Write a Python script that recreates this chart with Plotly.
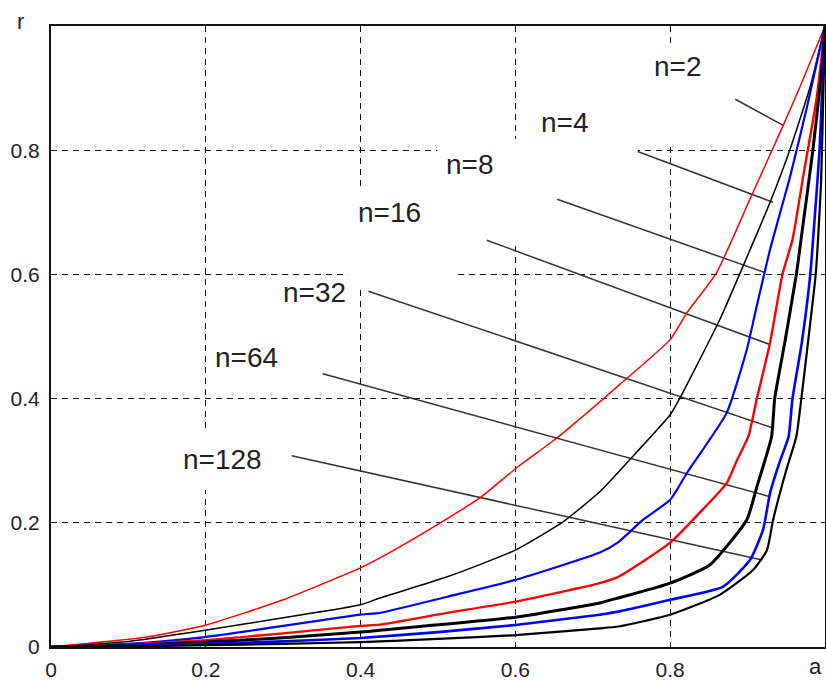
import plotly.graph_objects as go

# ---- data ----
labels = ["n=2", "n=4", "n=8", "n=16", "n=32", "n=64", "n=128"]

x_n2 = [0, 0.124, 0.199, 0.3, 0.399, 0.425, 0.503, 0.554, 0.602, 0.654, 0.712, 0.735, 0.800, 0.822, 0.860, 0.903, 0.946, 0.968, 1.0]
y_n2 = [0, 0.016, 0.035, 0.076, 0.127, 0.1435, 0.200, 0.240, 0.289, 0.337, 0.398, 0.423, 0.495, 0.539, 0.603, 0.721, 0.840, 0.903, 1.0]

x_n4 = [0, 0.1, 0.199, 0.3, 0.4, 0.425, 0.512, 0.600, 0.662, 0.709, 0.748, 0.800, 0.813, 0.864, 0.894, 0.929, 0.955, 0.981, 1.0]
y_n4 = [0, 0.009, 0.027, 0.047, 0.068, 0.079, 0.113, 0.156, 0.202, 0.250, 0.302, 0.374, 0.402, 0.527, 0.613, 0.716, 0.802, 0.903, 1.0]

x_n8 = [0, 0.1, 0.199, 0.3, 0.399, 0.425, 0.512, 0.600, 0.709, 0.733, 0.765, 0.800, 0.822, 0.873, 0.899, 0.910, 0.929, 0.955, 0.977, 1.0]
y_n8 = [0, 0.005, 0.016, 0.034, 0.052, 0.055, 0.081, 0.108, 0.152, 0.169, 0.205, 0.237, 0.281, 0.377, 0.479, 0.539, 0.640, 0.758, 0.871, 1.0]

x_n16 = [0, 0.1, 0.2, 0.3, 0.4, 0.425, 0.512, 0.600, 0.709, 0.733, 0.800, 0.838, 0.873, 0.886, 0.901, 0.912, 0.929, 0.945, 0.958, 0.972, 0.989, 1.0]
y_n16 = [0, 0.004, 0.011, 0.022, 0.034, 0.036, 0.055, 0.073, 0.103, 0.113, 0.168, 0.216, 0.264, 0.300, 0.339, 0.400, 0.490, 0.600, 0.656, 0.759, 0.882, 1.0]

x_n32 = [0, 0.1, 0.2, 0.3, 0.4, 0.425, 0.6, 0.709, 0.733, 0.8, 0.851, 0.899, 0.912, 0.931, 0.935, 0.948, 0.963, 0.969, 0.984, 0.996, 1.0]
y_n32 = [0, 0.003, 0.008, 0.015, 0.024, 0.027, 0.048, 0.071, 0.079, 0.103, 0.132, 0.205, 0.258, 0.339, 0.400, 0.490, 0.600, 0.656, 0.797, 0.931, 1.0]

x_n64 = [0, 0.1, 0.2, 0.3, 0.4, 0.5, 0.6, 0.709, 0.733, 0.8, 0.868, 0.903, 0.920, 0.929, 0.942, 0.953, 0.958, 0.970, 0.981, 0.986, 0.993, 1.0]
y_n64 = [0, 0.002, 0.005, 0.009, 0.0145, 0.024, 0.0355, 0.052, 0.057, 0.076, 0.097, 0.140, 0.189, 0.248, 0.300, 0.339, 0.400, 0.490, 0.600, 0.680, 0.800, 1.0]

x_n128 = [0, 0.1, 0.2, 0.3, 0.4, 0.5, 0.6, 0.709, 0.733, 0.8, 0.864, 0.907, 0.925, 0.933, 0.950, 0.963, 0.968, 0.978, 0.988, 0.991, 0.995, 0.998, 1.0]
y_n128 = [0, 0.001, 0.003, 0.005, 0.008, 0.013, 0.019, 0.030, 0.033, 0.052, 0.084, 0.124, 0.156, 0.205, 0.285, 0.339, 0.385, 0.490, 0.600, 0.656, 0.750, 0.900, 1.0]

# label text centres
label_x = [0.810, 0.664, 0.541, 0.437, 0.341, 0.252, 0.221]
label_y = [0.934, 0.845, 0.777, 0.700, 0.571, 0.466, 0.302]

# callout line endpoints (start near label, end on curve)
call_x0 = [0.884, 0.758, 0.654, 0.563, 0.410, 0.351, 0.311]
call_y0 = [0.882, 0.798, 0.721, 0.655, 0.573, 0.440, 0.308]
call_x1 = [0.946, 0.933, 0.922, 0.929, 0.932, 0.929, 0.919]
call_y1 = [0.840, 0.716, 0.603, 0.487, 0.353, 0.242, 0.140]

x_ticks = [0, 0.2, 0.4, 0.6, 0.8]
x_ticktext = ["0", "0.2", "0.4", "0.6", "0.8"]
y_ticks = [0, 0.2, 0.4, 0.6, 0.8]
y_ticktext = ["0", "0.2", "0.4", "0.6", "0.8"]

series_x = [x_n2, x_n4, x_n8, x_n16, x_n32, x_n64, x_n128]
series_y = [y_n2, y_n4, y_n8, y_n16, y_n32, y_n64, y_n128]
colors = ["#ff0000", "#000000", "#0000ff", "#ff0000", "#000000", "#0000ff", "#000000"]
widths = [1.5, 1.5, 2.2, 2.4, 3, 2.6, 2.2]

FONT = "Liberation Sans, Arial, sans-serif"

fig = go.Figure()

# callout lines (under the curves)
for i in range(len(labels)):
    fig.add_trace(go.Scatter(
        x=[call_x0[i], call_x1[i]], y=[call_y0[i], call_y1[i]],
        mode="lines", line=dict(color="#333333", width=1.5),
        hoverinfo="skip", showlegend=False))

for i in range(len(labels)):
    fig.add_trace(go.Scatter(
        x=series_x[i], y=series_y[i], mode="lines", name=labels[i],
        line=dict(color=colors[i], width=widths[i], shape="spline", smoothing=0.5),
        showlegend=False))

# labels
for i in range(len(labels)):
    fig.add_annotation(x=label_x[i], y=label_y[i], text=labels[i],
                       showarrow=False, xanchor="center", yanchor="middle",
                       font=dict(family=FONT, size=28, color="#222222"))

# white masks that interrupt the grid behind the labels
masks = [(0.760, 0.864, 0.805, 0.968),
         (0.499, 0.758, 0.653, 0.818),
         (0.384, 0.522, 0.581, 0.734),
         (0.154, 0.283, 0.253, 0.345)]
for (x0, x1, y0, y1) in masks:
    fig.add_shape(type="rect", x0=x0, x1=x1, y0=y0, y1=y1, xref="x", yref="y",
                  fillcolor="white", line=dict(width=0), layer="between")

# axis titles
fig.add_annotation(xref="paper", yref="paper", x=-0.04, y=1.008, text="r",
                   showarrow=False, xanchor="center", yanchor="middle",
                   font=dict(family=FONT, size=22, color="#222222"))
fig.add_annotation(xref="paper", yref="paper", x=0.988, y=-0.031, text="a",
                   showarrow=False, xanchor="center", yanchor="middle",
                   borderpad=0,
                   font=dict(family=FONT, size=22, color="#222222"))

axis_common = dict(
    showgrid=True, gridcolor="#111111", gridwidth=1.2, griddash="6px,5px",
    zeroline=False, showline=True, linecolor="#111111", linewidth=2, mirror=True,
    ticks="inside", ticklen=4, tickcolor="#111111",
    tickfont=dict(family=FONT, size=21, color="#222222"),
    range=[0, 1], fixedrange=True, automargin=False,
)

fig.update_xaxes(tickvals=x_ticks, ticktext=x_ticktext, ticklabelstandoff=3, **axis_common)
fig.update_yaxes(tickvals=y_ticks, ticktext=y_ticktext, ticklabelstandoff=5, **axis_common)

fig.update_layout(
    width=826, height=680,
    margin=dict(l=51, r=1, t=26, b=33, autoexpand=False),
    paper_bgcolor="white", plot_bgcolor="white",
    showlegend=False, hovermode=False,
)

fig.write_html("out.html", config={"displayModeBar": False},
               post_script="document.body.style.margin='0';document.body.style.overflow='hidden';")
